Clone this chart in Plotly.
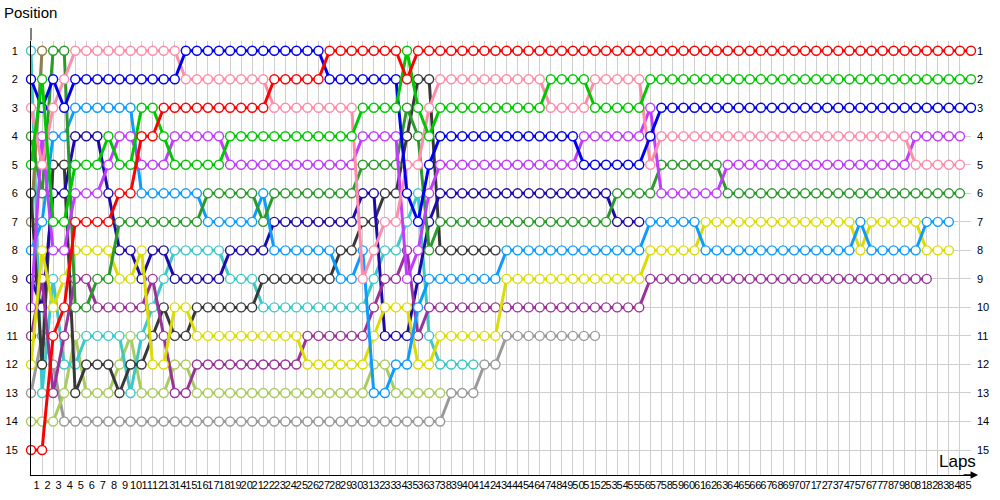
import plotly.graph_objects as go

laps = list(range(0, 86))
lap_labels = [str(k) for k in range(1, 86)]
positions = list(range(1, 16))
N = None

red = [15,15,11,10,7,7,7,7,6,6, 4,4,3,3,3,3,3,3,3,3, 3,3,2,2,2,2,2,1,1,1, 1,1,1,1,2,1,1,1,1,1,
       1,1,1,1,1,1,1,1,1,1, 1,1,1,1,1,1,1,1,1,1, 1,1,1,1,1,1,1,1,1,1, 1,1,1,1,1,1,1,1,1,1, 1,1,1,1,1,1]
blue = [2,3,2,3,2,2,2,2,2,2, 2,2,2,2,1,1,1,1,1,1, 1,1,1,1,1,1,1,2,2,2, 2,2,2,2,6,7,5,4,4,4,
        4,4,4,4,4,4,4,4,4,4, 5,5,5,5,5,5,4,3,3,3, 3,3,3,3,3,3,3,3,3,3, 3,3,3,3,3,3,3,3,3,3, 3,3,3,3,3,3]
pink = [3,5,3,2,1,1,1,1,1,1, 1,1,1,1,2,2,2,2,2,2, 2,2,3,3,3,3,3,3,3,3, 9,8,7,7,5,5,3,2,2,2,
        2,2,2,2,2,2,2,3,3,3, 3,2,2,2,2,2,5,4,4,4, 4,4,4,4,4,4,4,4,4,4, 4,4,4,4,4,4,4,4,4,4, 5,5,5,5,5,N]
green = [5,2,7,7,5,5,5,4,5,5, 3,3,4,5,5,5,5,5,4,4, 4,4,4,4,4,4,4,4,4,4, 3,3,3,3,1,3,4,3,3,3,
         3,3,3,3,3,3,3,2,2,2, 2,3,3,3,3,3,2,2,2,2, 2,2,2,2,2,2,2,2,2,2, 2,2,2,2,2,2,2,2,2,2, 2,2,2,2,2,2]
violet = [10,4,8,8,6,6,6,5,4,4, 5,5,5,4,4,4,4,4,5,5, 5,5,5,5,5,5,5,5,5,5, 4,4,4,4,9,8,6,5,5,5,
          5,5,5,5,5,5,5,5,5,5, 4,4,4,4,4,4,3,6,6,6, 6,6,6,5,5,5,5,5,5,5, 5,5,5,5,5,5,5,5,5,5, 4,4,4,4,4,N]
dark_green = [4,6,1,1,10,10,9,9,7,7, 7,7,7,7,7,7,6,6,6,6, 6,7,6,6,6,6,6,6,6,6, 5,5,5,5,3,4,8,7,7,7,
              7,7,7,7,7,7,7,7,7,7, 7,7,7,6,6,6,6,5,5,5, 5,5,5,6,6,6,6,6,6,6, 6,6,6,6,6,6,6,6,6,6, 6,6,6,6,6,N]
light_blue = [8,7,4,4,3,3,3,3,3,3, 6,6,6,6,6,6,7,7,7,7, 7,6,8,8,8,8,8,8,9,9, 8,13,13,12,12,10,9,9,9,9,
              9,9,9,8,8,8,8,8,8,8, 8,8,8,8,8,8,7,7,7,7, 7,8,8,8,8,8,8,8,8,8, 8,8,8,8,8,7,8,8,8,8, 8,7,7,7,N,N]
yellow = [12,8,10,9,8,8,8,8,9,9, 8,12,12,10,10,11,11,11,11,11, 11,11,11,11,11,12,12,12,12,12, 12,11,10,10,10,12,12,11,11,11,
          11,11,11,9,9,9,9,9,9,9, 9,9,9,9,9,9,8,8,8,8, 8,7,7,7,7,7,7,7,7,7, 7,7,7,7,7,8,7,7,7,7, 7,8,8,8,N,N]
purple = [11,9,13,11,9,9,10,10,10,10, 10,9,11,13,13,12,12,12,12,12, 12,12,12,12,12,11,11,11,11,11, 11,10,9,9,8,11,10,10,10,10,
          10,10,10,10,10,10,10,10,10,10, 10,10,10,10,10,10,9,9,9,9, 9,9,9,9,9,9,9,9,9,9, 9,9,9,9,9,9,9,9,9,9, 9,9,N,N,N,N]
navy = [9,10,6,6,4,4,4,6,8,8, 9,8,8,9,9,9,9,9,8,8, 8,8,7,7,7,7,7,7,7,7, 6,6,11,11,11,9,7,6,6,6,
        6,6,6,6,6,6,6,6,6,6, 6,6,6,7,7,7]
black = [6,12,5,5,13,12,12,12,13,12, 12,11,10,11,11,10,10,10,10,10, 10,9,9,9,9,9,9,9,8,8, 7,7,6,6,4,2,2,8,8,8,
         8,8,8]
turquoise = [1,13,9,12,12,11,11,11,11,13, 11,10,9,8,8,8,8,8,9,9, 9,10,10,10,10,10,10,10,10,10, 10,9,8,8,7,6,11,12,12,12,
             12]
light_green = [14,14,14,13,11,13,13,13,12,11, 13,13,13,12,12,13,13,13,13,13, 13,13,13,13,13,13,13,13,13,13, 13,12,12,13,13,13,13,13]
grey = [13,11,12,14,14,14,14,14,14,14, 14,14,14,14,14,14,14,14,14,14, 14,14,14,14,14,14,14,14,14,14, 14,14,14,14,14,14,14,14,13,13,
        13,12,12,11,11,11,11,11,11,11, 11,11]
olive = [7,1]

drivers = [
    (grey, "#9a9a9a"), (light_green, "#a8cc5e"), (turquoise, "#3cc8c8"), (olive, "#8a8048"),
    (black, "#383838"), (navy, "#1e0aa8"), (purple, "#993399"), (yellow, "#dcdc00"),
    (light_blue, "#0c9cff"), (dark_green, "#2a9a2a"), (violet, "#c23cff"), (pink, "#ff8caa"),
    (blue, "#0000f0"), (green, "#00c800"), (red, "#ff0000"),
]

fig = go.Figure()
for pos, col in drivers:
    xs = [laps[i] for i, p in enumerate(pos) if p is not None]
    ys = [p for p in pos if p is not None]
    fig.add_trace(go.Scatter(
        x=xs, y=ys, mode="lines+markers",
        line=dict(color=col, width=3),
        marker=dict(size=9, color="white", line=dict(color=col, width=1.4)),
        cliponaxis=False, showlegend=False, hoverinfo="skip"))

# invisible trace for the right-hand position axis
fig.add_trace(go.Scatter(x=[0], y=[1], yaxis="y2", mode="markers",
                         marker=dict(opacity=0), showlegend=False, hoverinfo="skip"))

yr = [15.876, 0.66]
font = "Liberation Sans, Arial, sans-serif"
fig.update_layout(
    width=1000, height=500,
    margin=dict(l=31, r=29, t=41, b=25, autoexpand=False),
    paper_bgcolor="white", plot_bgcolor="white",
    font=dict(family=font, size=11, color="#000"),
    xaxis=dict(range=[0, 85], tickmode="array", automargin=False,
               tickvals=[k - 0.5 for k in range(1, 86)], ticktext=lap_labels,
               tickangle=0, showgrid=False, zeroline=False,
               showline=True, linecolor="#000", linewidth=1, ticks="",
               tickfont=dict(size=11),
               minor=dict(tickmode="array", tickvals=laps, showgrid=True,
                          gridcolor="#cfcfcf", gridwidth=1, ticks="")),
    yaxis=dict(range=yr, tickmode="array", tickvals=positions, automargin=False,
               ticktext=[str(p) for p in positions],
               showgrid=True, gridcolor="#cfcfcf", gridwidth=1, zeroline=False,
               showline=True, linecolor="#000", linewidth=1, ticks="",
               ticklabelstandoff=10, tickfont=dict(size=11)),
    yaxis2=dict(range=yr, overlaying="y", side="right", tickmode="array", automargin=False,
                tickvals=positions, ticktext=[str(p) for p in positions],
                showgrid=False, zeroline=False, showline=False, ticks="",
                ticklabelstandoff=5, tickfont=dict(size=11)),
    annotations=[
        dict(text="Position", xref="paper", yref="paper", x=-0.031, y=1.065,
             xanchor="left", yanchor="middle", showarrow=False,
             font=dict(size=15, family=font, color="#000")),
        dict(text="Laps", xref="paper", yref="paper", x=0.986, y=0.03,
             xanchor="center", yanchor="middle", showarrow=False,
             font=dict(size=17, family=font, color="#000")),
        dict(text="", xref="paper", yref="paper", x=1.0075, y=0, ax=-16, ay=0,
             showarrow=True, arrowhead=2, arrowsize=1, arrowwidth=1.5, arrowcolor="#000"),
        dict(text="", xref="paper", yref="paper", x=0, y=1.030, ax=0, ay=14,
             showarrow=True, arrowhead=0, arrowsize=1, arrowwidth=1, arrowcolor="#000"),
    ],
)

fig.write_html("out.html", config={"displayModeBar": False},
               post_script="document.body.style.margin='0';document.body.style.overflow='hidden';")
